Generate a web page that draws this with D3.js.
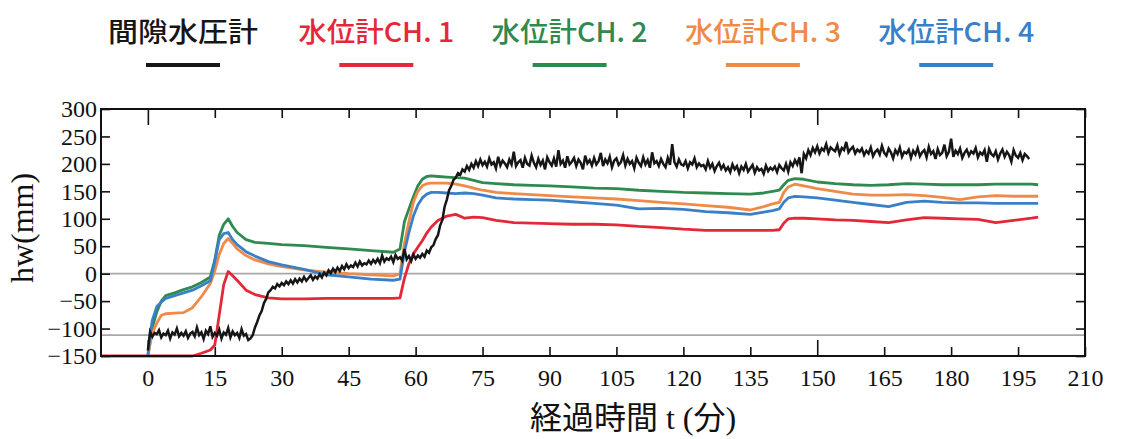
<!DOCTYPE html>
<html>
<head>
<meta charset="utf-8">
<script src="https://cdn.jsdelivr.net/npm/d3@7"></script>
<style>
body{margin:0;background:#fff;}
</style>
</head>
<body>
<div id="chart"></div>
<script>
/* 間隙水圧計 + 水位計 CH.1-4 : hw(mm) vs elapsed time */
const seriesNames = ["間隙水圧計","水位計CH. 1","水位計CH. 2","水位計CH. 3","水位計CH. 4"];
const seriesColors = ["#161616","#e4283a","#2e8a4e","#f08a48","#3a80c8"];

const xTicks = [0,15,30,45,60,75,90,105,120,135,150,165,180,195,210];
const yTicks = [-150,-100,-50,0,50,100,150,200,250,300];
const refLines = [0,-112];

// water level gauges: common time axis (min)
const tLevel = [-10.5,0,0.5,1,2,3,4,6,8,10,
  12,14,15,16,17,18,19,20,22,24,
  27,30,35,40,45,50,55,56.5,57.5,58.5,
  59.5,60.5,61.5,62.5,63.5,65,67,69,71,73,
  75,78,82,86,90,95,100,105,110,115,
  120,125,130,135,138,140,141.5,142.5,143.5,145,
  147,150,154,158,162,166,170,174,178,182,
  186,190,194,198,199.5];
const ch1 = [-150,-150,-150,-150,-150,-150,-150,-150,-150,-150,
  -145,-139,-130,-75,-20,4,-4,-12,-30,-38,
  -44,-46,-46,-45,-45,-45,-45,-44,-8,18,
  36,48,60,74,85,97,105,108,101,103,
  102,97,93,92,91,90,90,89,86,84,
  81,79,79,79,79,79,80,92,100,101,
  101,100,98,97,95,93,98,102,101,100,
  99,93,97,101,103];
const ch2 = [null,-150,-125,-98,-70,-50,-40,-35,-29,-24,
  -16,-6,25,70,90,100,86,75,62,57,
  55,53,51,48,45,42,39,45,95,118,
  140,160,172,177,178,177,176,175,174,170,
  166,164,162,161,160,158,156,155,152,150,
  148,147,146,145,147,150,152,162,170,173,
  172,167,164,162,161,162,164,163,162,162,
  162,163,163,163,162];
const ch3 = [null,-150,-128,-108,-90,-76,-73,-72,-71,-62,
  -42,-18,5,35,55,64,55,45,33,25,
  18,13,7,3,0,-2,-4,0,55,95,
  130,150,160,164,165,165,165,163,160,156,
  152,148,146,144,142,140,138,136,133,130,
  127,124,121,116,122,127,130,148,158,163,
  160,155,150,145,143,143,144,142,139,135,
  140,142,141,141,141];
const ch4 = [null,-150,-112,-85,-60,-52,-45,-40,-35,-30,
  -22,-13,22,62,73,75,62,53,40,32,
  22,16,8,-2,-6,-10,-12,-10,40,75,
  105,125,138,145,148,148,147,146,147,146,
  143,138,136,135,134,131,128,125,118,119,
  117,113,111,108,112,115,118,130,138,141,
  140,138,134,130,126,122,130,132,130,129,
  129,128,128,128,128];

// pore water pressure gauge, sampled every 0.5 min from t=0
const pwStep = 0.5;
const pwValues = [
  -140,-106,-115,-108,-110,-103,-116,-109,-112,-104,-118,-107,-111,-100,-114,-108,-113,-105,-117,-109,
  -106,-114,-98,-112,-107,-119,-104,-110,-96,-115,-108,-113,-102,-118,-107,-111,-99,-116,-105,-112,
  -108,-117,-101,-113,-110,-121,-118,-112,-98,-88,-76,-68,-54,-46,-34,-30,-24,-27,-19,-23,
  -17,-21,-14,-19,-12,-18,-10,-16,-9,-14,-6,-13,-8,-3,-11,-5,-9,-1,-7,2,
  -3,6,1,9,3,11,5,14,8,17,10,15,12,20,13,22,15,19,17,24,
  18,25,20,27,19,33,22,28,25,31,21,34,27,30,24,45,26,32,23,35,
  27,33,29,36,31,42,38,48,52,63,70,88,98,122,135,152,160,171,175,183,
  180,190,186,196,189,200,193,205,196,208,198,204,195,210,199,203,192,213,197,206,
  201,194,208,199,222,196,203,207,193,211,200,197,215,202,194,209,198,206,190,212,
  203,197,210,195,225,200,206,193,214,199,204,211,196,208,202,190,215,201,207,197,
  211,199,205,220,196,208,201,213,194,206,210,198,203,216,197,209,200,205,192,211,
  202,196,212,199,207,193,221,201,205,196,209,200,194,211,198,236,203,195,208,199,
  197,205,192,203,199,210,194,201,196,198,190,205,193,200,187,196,202,191,198,188,
  194,185,199,190,196,183,195,189,200,186,192,198,184,194,188,191,182,197,187,193,
  189,195,185,198,192,188,200,186,203,196,207,199,212,183,218,210,225,216,229,221,
  232,219,228,224,236,220,230,226,223,234,218,229,225,240,221,227,231,219,226,222,
  228,216,224,219,230,214,222,226,217,233,220,215,228,221,210,225,218,230,213,222,
  219,226,211,224,217,229,214,221,225,212,231,218,223,209,227,216,220,235,214,222,
  246,213,224,218,228,211,220,226,215,223,219,229,212,221,217,225,204,227,218,214,
  223,208,219,226,213,222,216,204,225,215,211,220,207,218,214,209];

const W = 1124, H = 439;
const plot = {left: 101, right: 1085, top: 109, bottom: 356};
const serif = "'Liberation Serif','Times New Roman',serif";
const gothic = "'Noto Sans CJK JP','Noto Sans',sans-serif";

const svg = d3.select("#chart").append("svg")
  .attr("width", W).attr("height", H);

const x = d3.scaleLinear().domain([-10.5, 210]).range([plot.left, plot.right]);
const y = d3.scaleLinear().domain([-150, 300]).range([plot.bottom, plot.top]);

// grey reference lines
svg.append("g").selectAll("line").data(refLines).join("line")
  .attr("x1", plot.left).attr("x2", plot.right)
  .attr("y1", d => y(d)).attr("y2", d => y(d))
  .attr("stroke", "#a8a8a8").attr("stroke-width", 1.6);

// axes, ticks pointing inward
const gx = svg.append("g").attr("transform", "translate(0," + plot.bottom + ")")
  .call(d3.axisBottom(x).tickValues(xTicks).tickSize(-9).tickPadding(13));
const gxTop = svg.append("g").attr("transform", "translate(0," + plot.top + ")")
  .call(d3.axisTop(x).tickValues(xTicks).tickSize(-9).tickFormat(""));
const gy = svg.append("g").attr("transform", "translate(" + plot.left + ",0)")
  .call(d3.axisLeft(y).tickValues(yTicks).tickSize(-9).tickPadding(4));
const gyR = svg.append("g").attr("transform", "translate(" + plot.right + ",0)")
  .call(d3.axisRight(y).tickValues(yTicks).tickSize(-9).tickFormat(""));

[gx, gxTop, gy, gyR].forEach(g => {
  g.select(".domain").remove();
  g.selectAll(".tick line").attr("stroke", "#111").attr("stroke-width", 1.6);
  g.selectAll("text").attr("font-family", serif).attr("font-size", 24).attr("fill", "#111");
});
gx.selectAll(".tick line").filter(d => d % 150 === 0).attr("y2", -16);
gxTop.selectAll(".tick line").filter(d => d % 150 === 0).attr("y2", 16);

// series lines
const line = d3.line()
  .defined(d => d[1] !== null)
  .x(d => x(d[0]))
  .y(d => y(d[1]));

const levelSeries = [ch1, ch2, ch3, ch4];
const drawOrder = [1, 2, 3, 4];
drawOrder.forEach(k => {
  const pts = tLevel.map((t, i) => [t, levelSeries[k - 1][i]]);
  svg.append("path").datum(pts)
    .attr("fill", "none")
    .attr("stroke", seriesColors[k])
    .attr("stroke-width", 2.8)
    .attr("stroke-linejoin", "round")
    .attr("d", line);
});

const pwPts = pwValues.map((v, i) => [i * pwStep, v]);
svg.append("path").datum(pwPts)
  .attr("fill", "none")
  .attr("stroke", seriesColors[0])
  .attr("stroke-width", 2.5)
  .attr("d", line);

// frame
svg.append("rect")
  .attr("x", plot.left).attr("y", plot.top)
  .attr("width", plot.right - plot.left).attr("height", plot.bottom - plot.top)
  .attr("fill", "none").attr("stroke", "#111").attr("stroke-width", 2);

// legend
const legend = svg.append("g").selectAll("g").data(seriesNames).join("g")
  .attr("transform", (d, i) => "translate(" + (183 + i * 193.3) + ",0)");
legend.append("text")
  .attr("x", 0).attr("y", 42)
  .attr("text-anchor", "middle")
  .attr("font-family", gothic).attr("font-size", 27).attr("font-weight", 500)
  .attr("textLength", (d, i) => i === 0 ? 150 : 156)
  .attr("lengthAdjust", "spacingAndGlyphs")
  .attr("fill", (d, i) => seriesColors[i])
  .text(d => d);
legend.append("line")
  .attr("x1", -37).attr("x2", 37).attr("y1", 65).attr("y2", 65)
  .attr("stroke", (d, i) => seriesColors[i]).attr("stroke-width", 4);

// axis titles
svg.append("text")
  .attr("transform", "translate(33,228) rotate(-90)")
  .attr("text-anchor", "middle")
  .attr("font-family", serif).attr("font-size", 32).attr("fill", "#111")
  .text("hw(mm)");

const xt = svg.append("text")
  .attr("x", 633).attr("y", 429)
  .attr("text-anchor", "middle")
  .attr("font-size", 32).attr("fill", "#111");
xt.append("tspan").attr("font-family", gothic).text("経過時間");
xt.append("tspan").attr("font-family", serif).text(" t (");
xt.append("tspan").attr("font-family", gothic).text("分");
xt.append("tspan").attr("font-family", serif).text(")");
</script>
</body>
</html>
